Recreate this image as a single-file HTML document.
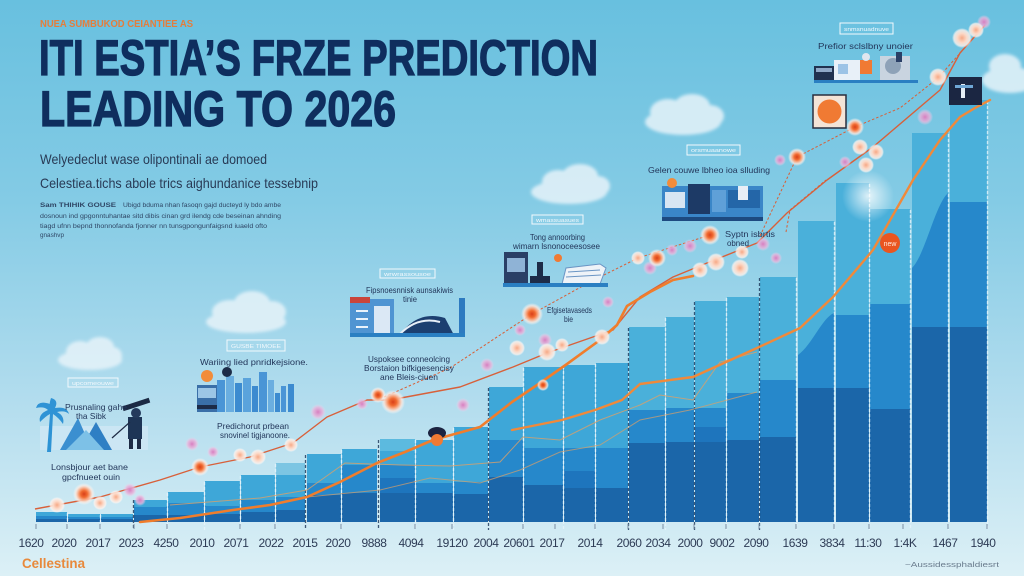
<!DOCTYPE html>
<html>
<head>
<meta charset="utf-8">
<style>
html,body{margin:0;padding:0;width:1024px;height:576px;overflow:hidden;background:#9fd4ea;}
svg{display:block;}
text{font-family:"Liberation Sans",sans-serif;}
</style>
</head>
<body>
<svg width="1024" height="576" viewBox="0 0 1024 576" xmlns="http://www.w3.org/2000/svg">
<defs>
  <linearGradient id="bg" x1="0" y1="0" x2="0" y2="1">
    <stop offset="0" stop-color="#68c0df"/>
    <stop offset="0.35" stop-color="#84cbe5"/>
    <stop offset="0.7" stop-color="#b3ddee"/>
    <stop offset="1" stop-color="#dcf0f6"/>
  </linearGradient>
  <radialGradient id="glow">
    <stop offset="0" stop-color="#d9401a"/>
    <stop offset="0.3" stop-color="#f06a30"/>
    <stop offset="0.5" stop-color="#f8a27a"/>
    <stop offset="0.75" stop-color="#fde6da" stop-opacity="0.8"/>
    <stop offset="1" stop-color="#ffffff" stop-opacity="0"/>
  </radialGradient>
  <radialGradient id="peach">
    <stop offset="0" stop-color="#f6a987"/>
    <stop offset="0.45" stop-color="#fcd8c6"/>
    <stop offset="0.8" stop-color="#fff1ea" stop-opacity="0.8"/>
    <stop offset="1" stop-color="#ffffff" stop-opacity="0"/>
  </radialGradient>
  <radialGradient id="pink">
    <stop offset="0" stop-color="#d77fc0"/>
    <stop offset="0.6" stop-color="#eab2da" stop-opacity="0.8"/>
    <stop offset="1" stop-color="#f5d5ec" stop-opacity="0"/>
  </radialGradient>
  <radialGradient id="whiteglow">
    <stop offset="0" stop-color="#ffffff" stop-opacity="0.8"/>
    <stop offset="1" stop-color="#ffffff" stop-opacity="0"/>
  </radialGradient>
  <filter id="blur" x="-20%" y="-20%" width="140%" height="140%"><feGaussianBlur stdDeviation="1.5"/></filter>
</defs>

<rect x="0" y="0" width="1024" height="576" fill="url(#bg)"/>

<!-- clouds -->
<g fill="#e6f3f9" opacity="0.85" filter="url(#blur)">
  <g><ellipse cx="683" cy="122" rx="38" ry="13"/><ellipse cx="668" cy="112" rx="18" ry="13"/><ellipse cx="692" cy="106" rx="18" ry="12"/><ellipse cx="710" cy="116" rx="14" ry="11"/></g>
  <g><ellipse cx="569" cy="192" rx="38" ry="12"/><ellipse cx="558" cy="182" rx="16" ry="12"/><ellipse cx="580" cy="176" rx="18" ry="12"/><ellipse cx="598" cy="186" rx="12" ry="10"/></g>
  <g><ellipse cx="90" cy="360" rx="32" ry="10"/><ellipse cx="80" cy="352" rx="14" ry="11"/><ellipse cx="100" cy="347" rx="14" ry="10"/><ellipse cx="113" cy="356" rx="9" ry="9"/></g>
  <g><ellipse cx="246" cy="322" rx="40" ry="11"/><ellipse cx="230" cy="312" rx="18" ry="12"/><ellipse cx="252" cy="303" rx="18" ry="12"/><ellipse cx="272" cy="312" rx="14" ry="11"/></g>
  <g><ellipse cx="1010" cy="80" rx="28" ry="13"/><ellipse cx="1005" cy="66" rx="16" ry="12"/></g>
</g>

<!-- title -->
<text x="40" y="27" font-size="10.5" font-weight="bold" fill="#e47d3c" textLength="153" lengthAdjust="spacingAndGlyphs">NUEA SUMBUKOD CEIANTIEE AS</text>
<text x="39" y="75" font-size="50" font-weight="bold" fill="#0f2e5e" stroke="#0f2e5e" stroke-width="1.3" textLength="559" lengthAdjust="spacingAndGlyphs">ITI ESTIA’S FRZE PREDICTION</text>
<text x="40" y="126" font-size="50" font-weight="bold" fill="#0f2e5e" stroke="#0f2e5e" stroke-width="1.3" textLength="356" lengthAdjust="spacingAndGlyphs">LEADING TO 2026</text>
<text x="40" y="164" font-size="14" fill="#283a55" textLength="227" lengthAdjust="spacingAndGlyphs">Welyedeclut wase olipontinali ae domoed</text>
<text x="40" y="188" font-size="14" fill="#283a55" textLength="278" lengthAdjust="spacingAndGlyphs">Celestiea.tichs abole trics aighundanice tessebnip</text>
<g font-size="6.5" fill="#2f4766">
  <text x="40" y="207" font-weight="bold" textLength="76" lengthAdjust="spacingAndGlyphs">Sam THIHIK GOUSE</text>
  <text x="123" y="207" textLength="158" lengthAdjust="spacingAndGlyphs">Ubigd bduma nhan fasoqn gajd ducteyd ly bdo ambe</text>
  <text x="40" y="218" textLength="241" lengthAdjust="spacingAndGlyphs">dosnoun ind gpgonntuhantae sitd dibis cinan grd ilendg cde beseinan ahnding</text>
  <text x="40" y="228" textLength="227" lengthAdjust="spacingAndGlyphs">tiagd ufnn bepnd thonnofanda fjonner nn tunsgpongunfaigsnd iuaeld ofto</text>
  <text x="40" y="237" textLength="24" lengthAdjust="spacingAndGlyphs">gnashvp</text>
</g>

<!-- bars -->
<g>
  <g fill="#3ea7d8">
    <rect x="36" y="512" width="31" height="10"/>
    <rect x="68" y="514" width="32" height="8"/>
    <rect x="101" y="514" width="32" height="8"/>
    <rect x="134" y="500" width="33" height="22"/>
    <rect x="168" y="492" width="36" height="30"/>
    <rect x="205" y="481" width="35" height="41"/>
    <rect x="241" y="475" width="34" height="47"/>
    <rect x="276" y="463" width="29" height="59"/>
    <rect x="307" y="454" width="34" height="68"/>
    <rect x="342" y="449" width="35" height="73"/>
    <rect x="380" y="439" width="35" height="83"/>
    <rect x="416" y="440" width="37" height="82"/>
    <rect x="454" y="427" width="34" height="95"/>
    <rect x="489" y="387" width="34" height="135"/>
    <rect x="524" y="367" width="39" height="155"/>
    <rect x="564" y="365" width="31" height="157"/>
    <rect x="596" y="363" width="32" height="159"/>
    <rect x="629" y="327" width="36" height="195" fill="#4ab0da"/>
    <rect x="666" y="317" width="28" height="205" fill="#4ab0da"/>
    <rect x="695" y="301" width="31" height="221" fill="#4ab0da"/>
    <rect x="727" y="297" width="32" height="225" fill="#4ab0da"/>
    <rect x="760" y="277" width="36" height="245" fill="#4ab0da"/>
    <rect x="798" y="221" width="36" height="301" fill="#4ab0da"/>
    <rect x="836" y="183" width="33" height="339" fill="#4ab0da"/>
    <rect x="870" y="209" width="40" height="313" fill="#4ab0da"/>
    <rect x="912" y="133" width="36" height="389" fill="#4ab0da"/>
    <rect x="950" y="100" width="37" height="422" fill="#4ab0da"/>
  </g>
  <rect x="276" y="463" width="29" height="12" fill="#7cc5e3"/>
  <rect x="380" y="439" width="35" height="12" fill="#5cbadf"/>
  <g fill="#2688cb">
    <rect x="36" y="516" width="31" height="6"/>
    <rect x="68" y="517" width="32" height="5"/>
    <rect x="101" y="517" width="32" height="5"/>
    <rect x="134" y="507" width="33" height="15"/>
    <rect x="168" y="503" width="36" height="19"/>
    <rect x="205" y="506" width="35" height="16"/>
    <rect x="241" y="500" width="34" height="22"/>
    <rect x="276" y="497" width="29" height="25"/>
    <rect x="307" y="483" width="34" height="39"/>
    <rect x="342" y="465" width="35" height="57"/>
    <rect x="380" y="465" width="35" height="57"/>
    <rect x="416" y="483" width="37" height="39"/>
    <rect x="454" y="482" width="34" height="40"/>
    <rect x="489" y="440" width="34" height="82"/>
    <rect x="524" y="448" width="39" height="74"/>
    <rect x="564" y="448" width="31" height="74"/>
    <rect x="596" y="448" width="32" height="74"/>
    <rect x="629" y="410" width="36" height="112"/>
    <rect x="666" y="408" width="28" height="114"/>
    <rect x="695" y="408" width="31" height="114"/>
    <rect x="727" y="393" width="32" height="129"/>
    <rect x="760" y="380" width="36" height="142"/>
    <path d="M798,355 C812,345 822,318 834,313 L834,522 L798,522 Z"/>
    <rect x="836" y="315" width="33" height="207"/>
    <rect x="870" y="304" width="40" height="218"/>
    <path d="M912,268 C925,255 935,205 948,193 L948,522 L912,522 Z"/>
    <rect x="950" y="202" width="37" height="320"/>
  </g>
  <g fill="#1e75bd">
    <rect x="380" y="478" width="35" height="44"/>
    <rect x="564" y="471" width="31" height="51"/>
    <rect x="695" y="427" width="31" height="95"/>
  </g>
  <g fill="#1b66a9">
    <rect x="36" y="519" width="31" height="3"/>
    <rect x="68" y="519" width="32" height="3"/>
    <rect x="101" y="519" width="32" height="3"/>
    <rect x="134" y="515" width="33" height="7"/>
    <rect x="168" y="515" width="36" height="7"/>
    <rect x="205" y="514" width="35" height="8"/>
    <rect x="241" y="512" width="34" height="10"/>
    <rect x="276" y="510" width="29" height="12"/>
    <rect x="307" y="495" width="34" height="27"/>
    <rect x="342" y="493" width="35" height="29"/>
    <rect x="380" y="493" width="35" height="29"/>
    <rect x="416" y="493" width="37" height="29"/>
    <rect x="454" y="494" width="34" height="28"/>
    <rect x="489" y="477" width="34" height="45"/>
    <rect x="524" y="485" width="39" height="37"/>
    <rect x="564" y="488" width="31" height="34"/>
    <rect x="596" y="488" width="32" height="34"/>
    <rect x="629" y="443" width="36" height="79"/>
    <rect x="666" y="442" width="28" height="80"/>
    <rect x="695" y="442" width="31" height="80"/>
    <rect x="727" y="440" width="32" height="82"/>
    <rect x="760" y="437" width="36" height="85"/>
    <rect x="798" y="388" width="36" height="134"/>
    <rect x="836" y="388" width="33" height="134"/>
    <rect x="870" y="409" width="40" height="113"/>
    <rect x="912" y="327" width="36" height="195"/>
    <rect x="950" y="327" width="37" height="195"/>
  </g>
  <g stroke="#e8f6fc" stroke-width="1.4" stroke-dasharray="3,2" opacity="0.75">
    <line x1="67.5" y1="513" x2="67.5" y2="530"/>
    <line x1="100.5" y1="515" x2="100.5" y2="530"/>
    <line x1="167.5" y1="493" x2="167.5" y2="530"/>
    <line x1="204.5" y1="482" x2="204.5" y2="530"/>
    <line x1="240.5" y1="476" x2="240.5" y2="530"/>
    <line x1="275.5" y1="464" x2="275.5" y2="530"/>
    <line x1="341.5" y1="450" x2="341.5" y2="530"/>
    <line x1="415.5" y1="440" x2="415.5" y2="530"/>
    <line x1="453.5" y1="428" x2="453.5" y2="530"/>
    <line x1="523.5" y1="368" x2="523.5" y2="530"/>
    <line x1="563.5" y1="366" x2="563.5" y2="530"/>
    <line x1="595.5" y1="364" x2="595.5" y2="530"/>
    <line x1="665.5" y1="318" x2="665.5" y2="530"/>
    <line x1="726.5" y1="298" x2="726.5" y2="530"/>
    <line x1="796.5" y1="278" x2="796.5" y2="530"/>
    <line x1="834.5" y1="222" x2="834.5" y2="530"/>
    <line x1="869.5" y1="184" x2="869.5" y2="530"/>
    <line x1="910.5" y1="210" x2="910.5" y2="530"/>
    <line x1="948.5" y1="134" x2="948.5" y2="530"/>
    <line x1="987.5" y1="101" x2="987.5" y2="530"/>
  </g>
  <g stroke="#1b3558" stroke-width="1.3" stroke-dasharray="3,2" opacity="0.8">
    <line x1="133.5" y1="500" x2="133.5" y2="530"/>
    <line x1="305.5" y1="455" x2="305.5" y2="530"/>
    <line x1="378.5" y1="440" x2="378.5" y2="530"/>
    <line x1="488.5" y1="388" x2="488.5" y2="530"/>
    <line x1="628.5" y1="328" x2="628.5" y2="530"/>
    <line x1="694.5" y1="302" x2="694.5" y2="530"/>
    <line x1="759.5" y1="278" x2="759.5" y2="530"/>
  </g>
</g>

<circle cx="868" cy="196" r="26" fill="url(#whiteglow)"/>

<polyline fill="none" stroke="#d9a06a" stroke-width="1" opacity="0.8" points="170,505 260,498 307,490 345,463 400,465 450,466 500,462 523,437 560,440 600,420 640,405 660,395 693,400 720,362 757,352"/>
<polyline fill="none" stroke="#d9a06a" stroke-width="1" opacity="0.7" points="307,497 380,490 430,478 480,483 520,470 560,452 600,445 640,420 690,410 757,392"/>

<g fill="none" stroke="#d95e35" stroke-width="1" stroke-dasharray="2.5,2">
  <polyline points="384,397 450,368 532,314 590,282 638,258 710,235"/>
  <polyline points="760,236 797,157 855,127 900,108 938,78 985,25"/>
  <polyline points="786,232 790,210 826,180"/>
</g>

<polyline fill="none" stroke="#d8603a" stroke-width="1.4" stroke-linejoin="round" points="35,509 100,497 160,480 200,467 250,457 293,443 327,417 367,400 390,400 460,387 513,367 547,353 613,330 640,297 673,277 707,263 757,243 787,213 827,180 873,147 940,90 960,53 985,25"/>

<polyline fill="none" stroke="#f07d2c" stroke-width="2.6" stroke-linejoin="round" stroke-linecap="round" points="140,522 180,518 233,510 270,505 307,497 340,482 377,463 405,452 433,440 480,427 512,402 540,383 567,364 600,340 617,325 627,306 650,292 673,280 693,276"/>
<polyline fill="none" stroke="#f0893a" stroke-width="2.4" stroke-linejoin="round" stroke-linecap="round" points="512,430 562,420 595,410 622,400 640,384 693,377 757,348 800,328 833,297 873,250 913,180 940,140 960,117 975,108 990,100"/>

<g>
  <circle cx="130" cy="490" r="7" fill="url(#pink)"/>
  <circle cx="140" cy="500" r="6" fill="url(#pink)"/>
  <circle cx="192" cy="444" r="7" fill="url(#pink)"/>
  <circle cx="213" cy="452" r="6" fill="url(#pink)"/>
  <circle cx="318" cy="412" r="8" fill="url(#pink)"/>
  <circle cx="362" cy="404" r="6" fill="url(#pink)"/>
  <circle cx="463" cy="405" r="7" fill="url(#pink)"/>
  <circle cx="487" cy="365" r="7" fill="url(#pink)"/>
  <circle cx="520" cy="330" r="6" fill="url(#pink)"/>
  <circle cx="545" cy="340" r="7" fill="url(#pink)"/>
  <circle cx="650" cy="268" r="7" fill="url(#pink)"/>
  <circle cx="672" cy="250" r="6" fill="url(#pink)"/>
  <circle cx="690" cy="246" r="7" fill="url(#pink)"/>
  <circle cx="763" cy="244" r="7" fill="url(#pink)"/>
  <circle cx="776" cy="258" r="6" fill="url(#pink)"/>
  <circle cx="780" cy="160" r="6" fill="url(#pink)"/>
  <circle cx="845" cy="162" r="6" fill="url(#pink)"/>
  <circle cx="925" cy="117" r="8" fill="url(#pink)"/>
  <circle cx="984" cy="22" r="7" fill="url(#pink)"/>
  <circle cx="608" cy="302" r="6" fill="url(#pink)"/>
</g>

<g>
  <circle cx="57" cy="505" r="8" fill="url(#peach)"/>
  <circle cx="100" cy="503" r="7" fill="url(#peach)"/>
  <circle cx="116" cy="497" r="7" fill="url(#peach)"/>
  <circle cx="240" cy="455" r="7" fill="url(#peach)"/>
  <circle cx="258" cy="457" r="8" fill="url(#peach)"/>
  <circle cx="291" cy="445" r="7" fill="url(#peach)"/>
  <circle cx="517" cy="348" r="8" fill="url(#peach)"/>
  <circle cx="547" cy="352" r="9" fill="url(#peach)"/>
  <circle cx="562" cy="345" r="7" fill="url(#peach)"/>
  <circle cx="602" cy="337" r="8" fill="url(#peach)"/>
  <circle cx="638" cy="258" r="7" fill="url(#peach)"/>
  <circle cx="700" cy="270" r="8" fill="url(#peach)"/>
  <circle cx="716" cy="262" r="9" fill="url(#peach)"/>
  <circle cx="740" cy="268" r="9" fill="url(#peach)"/>
  <circle cx="742" cy="252" r="7" fill="url(#peach)"/>
  <circle cx="860" cy="147" r="8" fill="url(#peach)"/>
  <circle cx="876" cy="152" r="8" fill="url(#peach)"/>
  <circle cx="866" cy="165" r="8" fill="url(#peach)"/>
  <circle cx="938" cy="77" r="9" fill="url(#peach)"/>
  <circle cx="962" cy="38" r="10" fill="url(#peach)"/>
  <circle cx="976" cy="30" r="8" fill="url(#peach)"/>
</g>

<g>
  <circle cx="84" cy="494" r="11" fill="url(#glow)"/>
  <circle cx="200" cy="467" r="9" fill="url(#glow)"/>
  <circle cx="378" cy="395" r="8" fill="url(#glow)"/>
  <circle cx="393" cy="402" r="12" fill="url(#glow)"/>
  <circle cx="532" cy="314" r="11" fill="url(#glow)"/>
  <circle cx="543" cy="385" r="6" fill="url(#glow)"/>
  <circle cx="657" cy="258" r="9" fill="url(#glow)"/>
  <circle cx="710" cy="235" r="10" fill="url(#glow)"/>
  <circle cx="797" cy="157" r="9" fill="url(#glow)"/>
  <circle cx="855" cy="127" r="9" fill="url(#glow)"/>
  <circle cx="890" cy="243" r="10" fill="#e9551f"/>
  <text x="890" y="246" font-size="7" fill="#ffe9dc" text-anchor="middle">new</text>
</g>

<rect x="813" y="95" width="33" height="33" fill="#f3e4d7" stroke="#2a2f3e" stroke-width="1.5"/>
<circle cx="829.5" cy="111.5" r="12" fill="#f07a33"/>
<rect x="949" y="77" width="33" height="28" fill="#1b2642"/>
<rect x="961" y="84" width="4" height="14" fill="#e6eef6"/>
<rect x="955" y="85" width="18" height="3" fill="#6fa7d6"/>

<ellipse cx="437" cy="433" rx="9" ry="6" fill="#1b2340"/>
<circle cx="437" cy="440" r="6" fill="#f07a33"/>

<g>
  <rect x="40" y="426" width="108" height="24" fill="#cde7f4" opacity="0.9"/>
  <polygon points="60,450 78,418 92,450" fill="#3b8fd0"/>
  <polygon points="80,450 96,422 112,450" fill="#2f7fc4"/>
  <polygon points="66,450 86,430 104,450" fill="#7dc1e7"/>
  <path d="M50,404 q-12,-4 -14,4 q8,-2 12,2 q-10,4 -8,12 q6,-6 10,-8 l-3,38 l4,0 l2,-38 q6,4 10,10 q2,-8 -6,-12 q8,-2 12,2 q-2,-8 -14,-6 q4,-8 -4,-10 q-2,6 -1,8 z" fill="#2f93d5"/>
  <rect x="128" y="417" width="14" height="22" fill="#1e3556"/>
  <circle cx="136" cy="413" r="5" fill="#243a5c"/>
  <rect x="129" y="439" width="4" height="10" fill="#1e2a44"/>
  <rect x="137" y="439" width="4" height="10" fill="#1e2a44"/>
  <rect x="122" y="402" width="28" height="5" fill="#1b2a44" transform="rotate(-18 136 404)"/>
  <line x1="112" y1="438" x2="130" y2="422" stroke="#1e2a44" stroke-width="1.2"/>
</g>
<rect x="68" y="378" width="50" height="9" fill="none" stroke="#f2f9fd" stroke-width="1"/>
<text x="72" y="385" font-size="5" fill="#f2f9fd" textLength="42" lengthAdjust="spacingAndGlyphs">upcomeouwe</text>
<text x="65" y="410" font-size="8.5" fill="#22365a" textLength="62" lengthAdjust="spacingAndGlyphs">Prusnaling gahe</text>
<text x="76" y="419" font-size="8" fill="#22365a" textLength="30" lengthAdjust="spacingAndGlyphs">tha Sibk</text>
<text x="51" y="470" font-size="8.5" fill="#22365a" textLength="77" lengthAdjust="spacingAndGlyphs">Lonsbjour aet bane</text>
<text x="62" y="480" font-size="8.5" fill="#22365a" textLength="58" lengthAdjust="spacingAndGlyphs">gpcfnueet ouin</text>

<g>
  <rect x="197" y="385" width="20" height="27" fill="#3a6fa8"/>
  <rect x="198" y="388" width="18" height="10" fill="#9cc6e6"/>
  <rect x="197" y="405" width="20" height="4" fill="#1c2b48"/>
  <circle cx="207" cy="376" r="6" fill="#f28c3a"/>
  <rect x="217" y="380" width="8" height="32" fill="#4a95d6"/>
  <rect x="226" y="376" width="8" height="36" fill="#6aaee0"/>
  <rect x="235" y="383" width="7" height="29" fill="#3c8bd0"/>
  <rect x="243" y="378" width="8" height="34" fill="#5aa3dc"/>
  <rect x="252" y="386" width="6" height="26" fill="#3c8bd0"/>
  <rect x="259" y="372" width="8" height="40" fill="#4a95d6"/>
  <rect x="268" y="380" width="6" height="32" fill="#6aaee0"/>
  <rect x="275" y="393" width="5" height="19" fill="#3c8bd0"/>
  <rect x="281" y="386" width="5" height="26" fill="#4a95d6"/>
  <rect x="288" y="384" width="6" height="28" fill="#3c8bd0"/>
  <ellipse cx="227" cy="372" rx="5" ry="5" fill="#1d2c48"/>
</g>
<rect x="227" y="340" width="58" height="11" fill="none" stroke="#f2f9fd" stroke-width="1"/>
<text x="231" y="348" font-size="5.5" fill="#f2f9fd" textLength="50" lengthAdjust="spacingAndGlyphs">GUSBE TIMOEE</text>
<text x="200" y="365" font-size="8.5" fill="#22365a" textLength="108" lengthAdjust="spacingAndGlyphs">Wariing lied pnridkejsione.</text>
<text x="217" y="429" font-size="8.5" fill="#22365a" textLength="72" lengthAdjust="spacingAndGlyphs">Predichorut prbean</text>
<text x="220" y="438" font-size="8.5" fill="#22365a" textLength="70" lengthAdjust="spacingAndGlyphs">snovinel tigjanoone.</text>

<g>
  <rect x="350" y="299" width="44" height="38" fill="#4f94d2"/>
  <rect x="350" y="297" width="20" height="6" fill="#c9443a"/>
  <rect x="356" y="310" width="12" height="2" fill="#e8f2fb"/>
  <rect x="356" y="318" width="12" height="2" fill="#e8f2fb"/>
  <rect x="356" y="326" width="12" height="2" fill="#e8f2fb"/>
  <rect x="374" y="306" width="16" height="28" fill="#dbe8f5"/>
  <path d="M398,337 C410,320 425,312 445,318 L455,337 Z" fill="#1c3f70"/>
  <path d="M400,334 C412,322 425,318 440,322" fill="none" stroke="#e6eef7" stroke-width="2"/>
  <rect x="459" y="298" width="6" height="39" fill="#2d7ac0"/>
  <rect x="350" y="333" width="115" height="4" fill="#2a7fc2"/>
</g>
<rect x="380" y="269" width="55" height="9" fill="none" stroke="#f2f9fd" stroke-width="1"/>
<text x="384" y="276" font-size="5" fill="#f2f9fd" textLength="47" lengthAdjust="spacingAndGlyphs">wrwrassousoe</text>
<text x="366" y="293" font-size="8.5" fill="#22365a" textLength="87" lengthAdjust="spacingAndGlyphs">Fipsnoesnnisk aunsakiwis</text>
<text x="403" y="302" font-size="8" fill="#22365a" textLength="14" lengthAdjust="spacingAndGlyphs">tinie</text>
<text x="368" y="362" font-size="8.5" fill="#22365a" textLength="82" lengthAdjust="spacingAndGlyphs">Uspoksee conneolcing</text>
<text x="364" y="371" font-size="8.5" fill="#22365a" textLength="90" lengthAdjust="spacingAndGlyphs">Borstaion bifkigesencisy</text>
<text x="380" y="380" font-size="8.5" fill="#22365a" textLength="58" lengthAdjust="spacingAndGlyphs">ane Bleis-ciuen</text>

<g>
  <rect x="504" y="252" width="24" height="34" fill="#2a3f66"/>
  <rect x="507" y="258" width="18" height="14" fill="#8fb3d6"/>
  <rect x="537" y="262" width="6" height="20" fill="#1d2c48"/>
  <rect x="530" y="276" width="20" height="10" fill="#1d2c48"/>
  <circle cx="558" cy="258" r="4" fill="#f07a33"/>
  <path d="M562,284 L566,268 L600,264 L606,268 L600,284 Z" fill="#eef3f8" stroke="#6a95c4" stroke-width="1"/>
  <line x1="568" y1="272" x2="600" y2="270" stroke="#6a95c4" stroke-width="1"/>
  <line x1="566" y1="277" x2="601" y2="275" stroke="#6a95c4" stroke-width="1"/>
  <rect x="503" y="283" width="105" height="4" fill="#2a7fc2"/>
</g>
<rect x="532" y="215" width="51" height="9" fill="none" stroke="#f2f9fd" stroke-width="1"/>
<text x="536" y="222" font-size="5" fill="#f2f9fd" textLength="43" lengthAdjust="spacingAndGlyphs">wmassuasues</text>
<text x="530" y="240" font-size="8.5" fill="#22365a" textLength="55" lengthAdjust="spacingAndGlyphs">Tong annoorbing</text>
<text x="513" y="249" font-size="8.5" fill="#22365a" textLength="87" lengthAdjust="spacingAndGlyphs">wimarn lsnonoceesosee</text>
<text x="547" y="313" font-size="8.5" fill="#22365a" textLength="45" lengthAdjust="spacingAndGlyphs">Efgisetavaseds</text>
<text x="564" y="322" font-size="8" fill="#22365a" textLength="9" lengthAdjust="spacingAndGlyphs">bie</text>

<g>
  <rect x="662" y="186" width="101" height="35" fill="#3a86c8"/>
  <rect x="665" y="192" width="20" height="16" fill="#d8e6f3"/>
  <rect x="688" y="184" width="22" height="30" fill="#1d3a66"/>
  <rect x="712" y="190" width="14" height="22" fill="#5fa0d8"/>
  <rect x="728" y="190" width="32" height="18" fill="#2466a8"/>
  <rect x="738" y="186" width="10" height="14" fill="#e8eef6"/>
  <circle cx="672" cy="183" r="5" fill="#f28c3a"/>
  <rect x="662" y="217" width="101" height="4" fill="#1d4a80"/>
</g>
<rect x="687" y="145" width="53" height="10" fill="none" stroke="#f2f9fd" stroke-width="1"/>
<text x="691" y="152" font-size="5" fill="#f2f9fd" textLength="45" lengthAdjust="spacingAndGlyphs">orsmuaanowe</text>
<text x="648" y="173" font-size="8.5" fill="#22365a" textLength="122" lengthAdjust="spacingAndGlyphs">Gelen couwe lbheo ioa slluding</text>
<text x="725" y="237" font-size="8.5" fill="#22365a" textLength="50" lengthAdjust="spacingAndGlyphs">Syptn isbrtis</text>
<text x="727" y="246" font-size="8" fill="#22365a" textLength="22" lengthAdjust="spacingAndGlyphs">obned</text>

<g>
  <rect x="814" y="66" width="20" height="16" fill="#203250"/>
  <rect x="816" y="68" width="16" height="4" fill="#8fa9c8"/>
  <rect x="834" y="60" width="26" height="22" fill="#e8f0f8"/>
  <rect x="838" y="64" width="10" height="10" fill="#9cc3e6"/>
  <rect x="860" y="60" width="12" height="14" fill="#f07a33"/>
  <circle cx="866" cy="57" r="4" fill="#e0e6ef"/>
  <rect x="880" y="56" width="30" height="24" fill="#c9d4e0"/>
  <circle cx="893" cy="66" r="8" fill="#8ea2b8"/>
  <rect x="896" y="52" width="6" height="10" fill="#2a3f66"/>
  <rect x="814" y="80" width="104" height="3" fill="#2a7fc2"/>
</g>
<rect x="840" y="23" width="53" height="11" fill="none" stroke="#f2f9fd" stroke-width="1"/>
<text x="844" y="31" font-size="5" fill="#f2f9fd" textLength="45" lengthAdjust="spacingAndGlyphs">snmsnuadnuve</text>
<text x="818" y="49" font-size="8.5" fill="#22365a" textLength="95" lengthAdjust="spacingAndGlyphs">Prefior sclslbny unoier</text>

<g stroke="#7a8ea3" stroke-width="1">
  <line x1="36" y1="524" x2="36" y2="529"/><line x1="67" y1="524" x2="67" y2="529"/>
  <line x1="100" y1="524" x2="100" y2="529"/><line x1="134" y1="524" x2="134" y2="529"/>
  <line x1="167" y1="524" x2="167" y2="529"/><line x1="240" y1="524" x2="240" y2="529"/>
  <line x1="275" y1="524" x2="275" y2="529"/><line x1="341" y1="524" x2="341" y2="529"/>
  <line x1="415" y1="524" x2="415" y2="529"/><line x1="452" y1="524" x2="452" y2="529"/>
  <line x1="523" y1="524" x2="523" y2="529"/><line x1="555" y1="524" x2="555" y2="529"/>
  <line x1="595" y1="524" x2="595" y2="529"/><line x1="628" y1="524" x2="628" y2="529"/>
  <line x1="663" y1="524" x2="663" y2="529"/><line x1="694" y1="524" x2="694" y2="529"/>
  <line x1="726" y1="524" x2="726" y2="529"/><line x1="759" y1="524" x2="759" y2="529"/>
  <line x1="796" y1="524" x2="796" y2="529"/><line x1="834" y1="524" x2="834" y2="529"/>
  <line x1="869" y1="524" x2="869" y2="529"/><line x1="903" y1="524" x2="903" y2="529"/>
  <line x1="948" y1="524" x2="948" y2="529"/><line x1="987" y1="524" x2="987" y2="529"/>
</g>

<g font-size="12" fill="#2d3b55" text-anchor="middle" letter-spacing="-0.4">
  <text x="31" y="547">1620</text>
  <text x="64" y="547">2020</text>
  <text x="98" y="547">2017</text>
  <text x="131" y="547">2023</text>
  <text x="166" y="547">4250</text>
  <text x="202" y="547">2010</text>
  <text x="236" y="547">2071</text>
  <text x="271" y="547">2022</text>
  <text x="305" y="547">2015</text>
  <text x="338" y="547">2020</text>
  <text x="374" y="547">9888</text>
  <text x="411" y="547">4094</text>
  <text x="452" y="547">19120</text>
  <text x="486" y="547">2004</text>
  <text x="519" y="547">20601</text>
  <text x="552" y="547">2017</text>
  <text x="590" y="547">2014</text>
  <text x="629" y="547">2060</text>
  <text x="658" y="547">2034</text>
  <text x="690" y="547">2000</text>
  <text x="722" y="547">9002</text>
  <text x="756" y="547">2090</text>
  <text x="795" y="547">1639</text>
  <text x="832" y="547">3834</text>
  <text x="868" y="547">11:30</text>
  <text x="905" y="547">1:4K</text>
  <text x="945" y="547">1467</text>
  <text x="983" y="547">1940</text>
</g>

<text x="22" y="568" font-size="14" font-weight="bold" fill="#e8893b" textLength="63" lengthAdjust="spacingAndGlyphs">Cellestina</text>
<text x="905" y="567" font-size="7.5" fill="#6a7c8e" textLength="94" lengthAdjust="spacingAndGlyphs">~Aussidessphaldiesrt</text>
</svg>
</body>
</html>
